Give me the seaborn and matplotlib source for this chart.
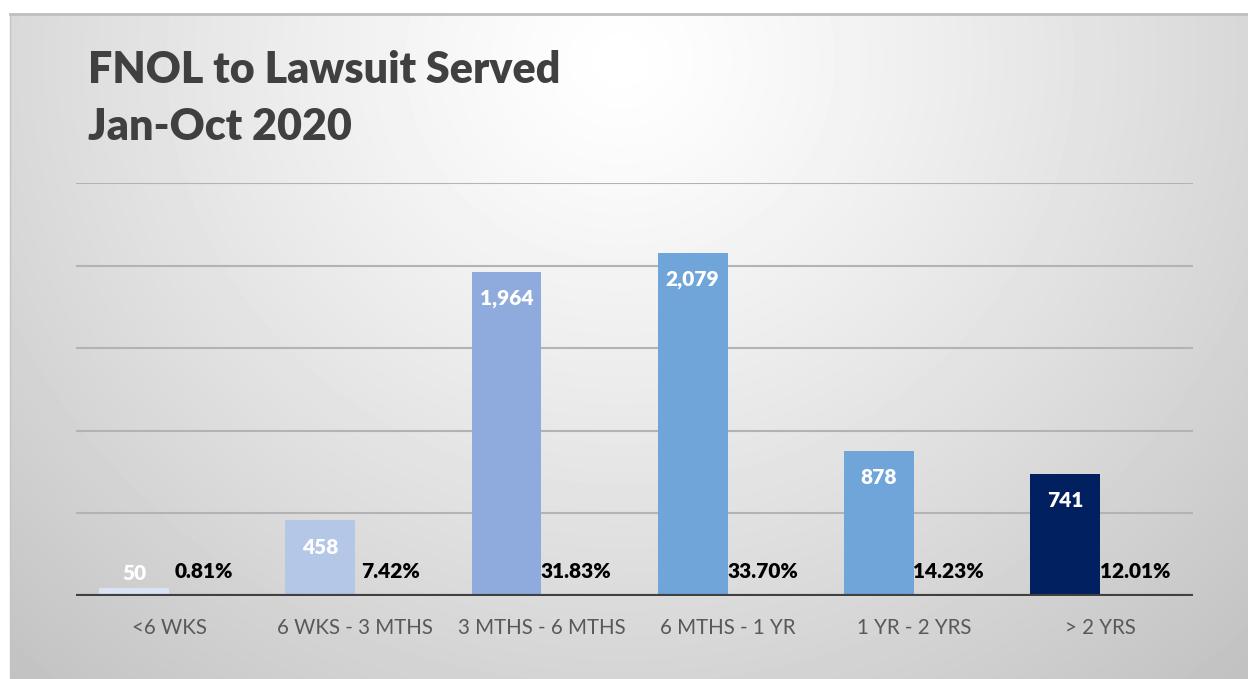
import numpy as np
import pandas as pd
import matplotlib.pyplot as plt
from matplotlib.lines import Line2D
import seaborn as sns

categories = ['<6 WKS', '6 WKS - 3 MTHS', '3 MTHS - 6 MTHS', '6 MTHS - 1 YR', '1 YR - 2 YRS', '> 2 YRS']
counts = [50, 458, 1964, 2079, 878, 741]
pcts = [0.81, 7.42, 31.83, 33.70, 14.23, 12.01]
bar_colors = ['#DAE3F3', '#B4C7E7', '#8FAADC', '#6FA5D8', '#6FA5D8', '#002060']

df = pd.DataFrame({'period': categories * 2,
                   'value': counts + pcts,
                   'series': ['Count'] * 6 + ['Pct'] * 6})

plt.rcParams['font.family'] = ['Lato', 'DejaVu Sans']
fig = plt.figure(figsize=(12.48, 6.79), dpi=100)

# radial grey background, like the excel chart area
W, H = 1238, 665
bg = fig.add_axes([10 / 1248, 0, W / 1248, H / 679])
xx, yy = np.meshgrid(np.arange(W), np.arange(H))
d = np.sqrt(((xx + 10 - 620) / 750) ** 2 + ((yy + 14 - 60) / 700) ** 2)
shade = 1 - 0.24 * np.clip(d / 1.2, 0, 1) ** 1.2
bg.imshow(shade, cmap='gray', vmin=0, vmax=1, aspect='auto')
bg.axis('off')
fig.add_artist(Line2D([10 / 1248, 1], [H / 679, H / 679], color='#bfbfbf', lw=2))
fig.add_artist(Line2D([10 / 1248, 10 / 1248], [0, H / 679], color='#c4c4c4', lw=1))

ax = fig.add_axes([76 / 1248, 83 / 679, 1117 / 1248, 413 / 679])
ax.patch.set_alpha(0)
sns.barplot(data=df, x='period', y='value', hue='series', width=0.75, dodge=True,
            ax=ax, legend=False, saturation=1)

for patch, c in zip(ax.containers[0], bar_colors):
    patch.set_facecolor(c)
    patch.set_edgecolor('none')
for patch in ax.containers[1]:
    patch.set_alpha(0)

for patch, v in zip(ax.containers[0], counts):
    x = patch.get_x() + patch.get_width() / 2
    ax.annotate(f'{v:,}', xy=(x, max(v, 300)), xytext=(0, -27), textcoords='offset pixels',
                ha='center', va='center', color='white', fontweight='heavy', fontsize=15)
for patch, p in zip(ax.containers[1], pcts):
    x = patch.get_x() + patch.get_width() / 2
    ax.annotate(f'{p:.2f}%', xy=(x, 0), xytext=(0, 24), textcoords='offset pixels',
                ha='center', va='center', color='black', fontweight='heavy', fontsize=15)

ax.set_xlim(-0.5, 5.5)
ax.set_ylim(0, 2500)
ax.set_yticks(np.arange(0, 2501, 500))
ax.set_yticklabels([])
ax.grid(axis='y', color='#b3b3b3', lw=1.5)
ax.set_axisbelow(True)
ax.axhline(0, color='#404040', lw=3, zorder=3)
for s in ax.spines.values():
    s.set_visible(False)
ax.set_xticks(range(len(categories)))
ax.set_xticklabels(categories, fontsize=14.8, color='#595959')
ax.tick_params(length=0)
ax.tick_params(axis='x', pad=16)
ax.set_xlabel('')
ax.set_ylabel('')

fig.text(88 / 1248, 1 - 83 / 679, 'FNOL to Lawsuit Served', fontsize=31, fontweight='heavy',
         color='#404040', va='baseline')
fig.text(88 / 1248, 1 - 140 / 679, 'Jan-Oct 2020', fontsize=31, fontweight='heavy',
         color='#404040', va='baseline')

fig.savefig('out.png', dpi=100)
